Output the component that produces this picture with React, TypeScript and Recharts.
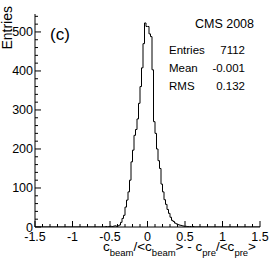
import { LineChart, Line, XAxis, YAxis } from "recharts";

// histogram: bin width 0.02, first non-empty bin starts at -0.56
const BIN_START = -0.56;
const BIN_WIDTH = 0.02;
const COUNTS = [
  1, 0, 1, 2, 1, 2, 3, 2, 3, 5,
  12, 22, 30, 51, 69, 90, 120, 167, 197, 235,
  250, 277, 317, 360, 408, 470, 523, 514, 514, 495,
  488, 403, 270, 240, 200, 170, 150, 110, 90, 70,
  58, 45, 35, 25, 17, 14, 10, 8, 6, 5,
  4, 3, 2, 2, 1, 1, 1, 0, 1,
];

const X_MIN = -1.5;
const X_MAX = 1.5;
const Y_MAX = 546;
const STAT_NAMES = ["Entries", "Mean", "RMS"];
const STAT_VALUES = ["7112", "-0.001", "0.132"];

const r3 = (v: number) => Math.round(v * 1000) / 1000;

const histData = [
  { x: X_MIN, count: 0 },
  ...COUNTS.map((c, i) => ({ x: r3(BIN_START + i * BIN_WIDTH), count: c })),
  { x: r3(BIN_START + COUNTS.length * BIN_WIDTH), count: 0 },
  { x: X_MAX, count: 0 },
];

// minor ticks every 0.1 on x and every 20 on y
const xTicks: number[] = [];
for (let i = 0; i <= 30; i++) xTicks.push(r3(X_MIN + i * 0.1));
const yTicks: number[] = [];
for (let v = 0; v <= 540; v += 20) yTicks.push(v);

const FONT = "'Liberation Sans', Arial, Helvetica, sans-serif";
const isMajor = (v: number, step: number) =>
  Math.abs(v / step - Math.round(v / step)) < 1e-6;

const BottomTick = (props: any) => {
  const { x, y, payload } = props;
  const major = isMajor(payload.value, 0.5);
  return (
    <g>
      <line x1={x} y1={y} x2={x} y2={y - (major ? 6 : 3)} stroke="#000" />
      {major && (
        <text x={x} y={y + 13.5} textAnchor="middle" fontSize={12.5} fontFamily={FONT} fill="#000">
          {String(Math.round(payload.value * 10) / 10)}
        </text>
      )}
    </g>
  );
};

const TopTick = (props: any) => {
  const { x, y, payload } = props;
  const major = isMajor(payload.value, 0.5);
  return <line x1={x} y1={y} x2={x} y2={y + (major ? 6 : 3)} stroke="#000" />;
};

const LeftTick = (props: any) => {
  const { x, y, payload } = props;
  const major = isMajor(payload.value, 100);
  return (
    <g>
      <line x1={x} y1={y} x2={x + (major ? 6 : 3)} y2={y} stroke="#000" />
      {major && (
        <text x={x - 2} y={y} dy="0.36em" textAnchor="end" fontSize={12.5} fontFamily={FONT} fill="#000">
          {payload.value}
        </text>
      )}
    </g>
  );
};

const RightTick = (props: any) => {
  const { x, y, payload } = props;
  const major = isMajor(payload.value, 100);
  return <line x1={x} y1={y} x2={x - (major ? 6 : 3)} y2={y} stroke="#000" />;
};

export default function App() {
  return (
    <div style={{ position: "absolute", left: 0, top: 0, width: 274, height: 261, background: "#fff" }}>
      <LineChart
        width={274}
        height={261}
        data={histData}
        margin={{ top: 14, right: 14, left: 0, bottom: 0 }}
      >
        <XAxis
          dataKey="x"
          type="number"
          domain={[X_MIN, X_MAX]}
          allowDataOverflow
          ticks={xTicks}
          interval={0}
          height={34}
          tickSize={0}
          tickMargin={0}
          tickLine={false}
          tick={<BottomTick />}
          axisLine={{ stroke: "#000" }}
        />
        <XAxis
          xAxisId="top"
          orientation="top"
          dataKey="x"
          type="number"
          domain={[X_MIN, X_MAX]}
          allowDataOverflow
          ticks={xTicks}
          interval={0}
          height={0}
          tickSize={0}
          tickMargin={0}
          tickLine={false}
          tick={<TopTick />}
          axisLine={{ stroke: "#000" }}
        />
        <YAxis
          type="number"
          domain={[0, Y_MAX]}
          allowDataOverflow
          ticks={yTicks}
          interval={0}
          width={35}
          tickSize={0}
          tickMargin={0}
          tickLine={false}
          tick={<LeftTick />}
          axisLine={{ stroke: "#000" }}
        />
        <YAxis
          yAxisId="right"
          orientation="right"
          type="number"
          domain={[0, Y_MAX]}
          allowDataOverflow
          ticks={yTicks}
          interval={0}
          width={0}
          tickSize={0}
          tickMargin={0}
          tickLine={false}
          tick={<RightTick />}
          axisLine={{ stroke: "#000" }}
        />
        <Line
          dataKey="count"
          type="stepAfter"
          stroke="#000"
          strokeWidth={1}
          dot={false}
          activeDot={false}
          isAnimationActive={false}
        />
      </LineChart>
      <svg
        width={274}
        height={261}
        style={{ position: "absolute", left: 0, top: 0, pointerEvents: "none" }}
        fontFamily={FONT}
        fill="#000"
      >
        <text x={12} y={6} transform="rotate(-90 12 6)" textAnchor="end" fontSize={14}>
          Entries
        </text>
        <text x={50} y={40} fontSize={17}>(c)</text>
        <text x={254} y={28} textAnchor="end" fontSize={12.5}>CMS 2008</text>
        {STAT_NAMES.map((n, i) => (
          <g key={n}>
            <text x={169} y={54 + i * 18} fontSize={11.5}>{n}</text>
            <text x={245} y={54 + i * 18} textAnchor="end" fontSize={11.5}>{STAT_VALUES[i]}</text>
          </g>
        ))}
        <text x={256} y={251} textAnchor="end" fontSize={13.5}>
          c<tspan fontSize={9.5} dy={5}>beam</tspan>
          <tspan dy={-5}>/&lt;c</tspan>
          <tspan fontSize={9.5} dy={5}>beam</tspan>
          <tspan dy={-5}>&gt; - c</tspan>
          <tspan fontSize={9.5} dy={5}>pre</tspan>
          <tspan dy={-5}>/&lt;c</tspan>
          <tspan fontSize={9.5} dy={5}>pre</tspan>
          <tspan dy={-5}>&gt;</tspan>
        </text>
      </svg>
    </div>
  );
}
